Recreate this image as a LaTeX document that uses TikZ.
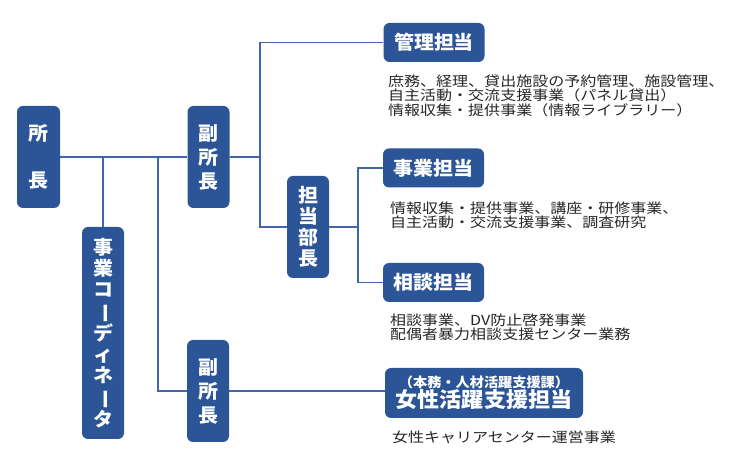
\documentclass[tikz,border=0pt]{standalone}
\usepackage{fontspec}
\setmainfont{Noto Sans CJK JP}[FakeStretch=1.05]
\newfontfamily\dutyfont{Noto Sans CJK JP}[FakeStretch=1.16]
\usetikzlibrary{positioning}
\definecolor{orgblue}{HTML}{2C5597}
\definecolor{orgline}{HTML}{4266AA}
\definecolor{orgtext}{HTML}{262626}
\newcommand{\vbar}{\rotatebox[origin=c]{-90}{ー}}

\begin{document}
\begin{tikzpicture}[
  x=1pt,y=-1pt,
  post/.style={fill=orgblue,rounded corners=6pt,text=white,align=center,inner sep=0pt,font=\bfseries\fontsize{19}{21}\selectfont},
  vpost/.style={post,minimum width=42pt,font=\bfseries\fontsize{19}{#1}\selectfont},
  hpost/.style={post,minimum width=101pt,minimum height=39pt},
  duty/.style={anchor=north west,inner sep=0pt,align=left,text=orgtext,font=\dutyfont\fontsize{13.8}{14.6}\selectfont},
  link/.style={draw=orgline,line width=1.5pt}
]
\useasboundingbox (0,0) rectangle (740,462);
\node[vpost=21,minimum width=43pt,minimum height=102pt] (shocho) at (38.5,157) {所\\[26pt]長};
\node[vpost=24,minimum height=102pt] (fuku1) at (208.5,157) {副\\所\\長};
\node[vpost=21,minimum height=212pt] (coord) at (103,333) {事\\業\\コ\\\vbar\\デ\\ィ\\ネ\\\vbar\\タ};
\node[vpost=24,minimum height=102pt] (fuku2) at (208,391) {副\\所\\長};
\node[vpost=21,minimum height=102pt] (bucho) at (308,227) {担\\当\\部\\長};
\node[hpost] (kanri) at (434,42.5) {管理担当};
\node[hpost] (jigyo) at (433.5,168) {事業担当};
\node[hpost] (sodan) at (433.5,282.5) {相談担当};
\node[post,minimum width=198pt,minimum height=50pt] (josei) at (484,393) {{\fontsize{13.5}{15}\selectfont（本務・人材活躍支援課）}\\[-1pt]{\fontsize{21}{22}\selectfont 女性活躍支援担当}};
\node[duty] (kanriduty) at (388,74.5) {庶務、経理、貸出施設の予約管理、施設管理、\\自主活動・交流支援事業（パネル貸出）\\情報収集・提供事業（情報ライブラリー）};
\node[duty] (jigyoduty) at (390,201.5) {情報収集・提供事業、講座・研修事業、\\自主活動・交流支援事業、調査研究};
\node[duty] (sodanduty) at (390,313.5) {相談事業、DV防止啓発事業\\配偶者暴力相談支援センター業務};
\node[duty] (joseiduty) at (392,430.5) {女性キャリアセンター運営事業};
\coordinate (spine) at (260,157);
\coordinate (fork) at (358,227);
\coordinate (drop) at (158,157);
\draw[link] (shocho.east) -- (fuku1.west);
\draw[link] (fuku1.east) -- (spine);
\draw[link] (kanri.west) -| (spine |- bucho.west) -- (bucho.west);
\draw[link] (bucho.east) -- (fork);
\draw[link] (jigyo.west) -| (fork |- sodan.west) -- (sodan.west);
\draw[link] (coord.north) -- (coord.north |- shocho.east);
\draw[link] (drop) |- (fuku2.west);
\draw[link] (fuku2.east) -- (fuku2.east -| josei.west);
\end{tikzpicture}
\end{document}
